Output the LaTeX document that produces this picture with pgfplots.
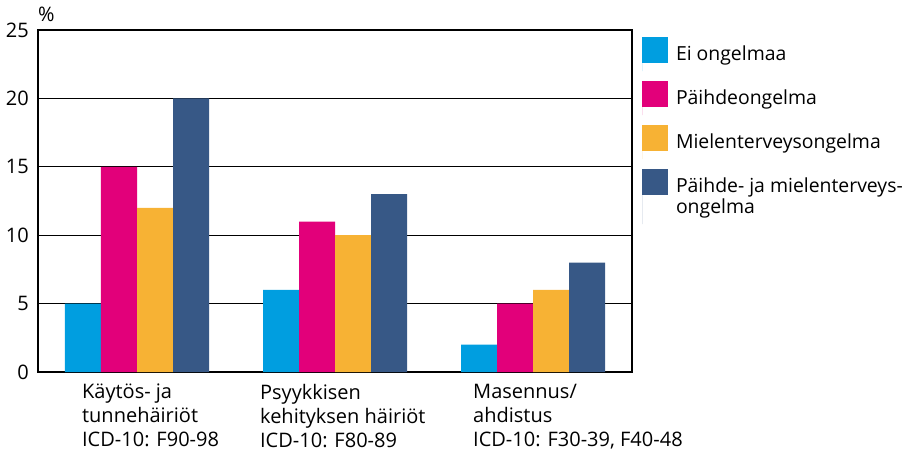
\documentclass[border=0pt]{standalone}
\usepackage{pgfplots}
\pgfplotsset{compat=1.18}
\usepackage{fontspec}
\setmainfont{Open Sans}
\definecolor{cA}{RGB}{0,158,224}
\definecolor{cB}{RGB}{226,0,122}
\definecolor{cC}{RGB}{247,178,52}
\definecolor{cD}{RGB}{55,88,134}
\begin{document}
\begin{tikzpicture}
\begin{axis}[
  scale only axis, width=594pt, height=342pt,
  ybar=0pt, bar width=36pt,
  xmin=-0.5, xmax=2.5, ymin=0, ymax=25,
  ytick={0,5,10,15,20,25},
  ymajorgrids, grid style={black, line width=0.8pt},
  axis line style={black, line width=1.2pt},
  major tick length=0pt,
  /pgf/number format/assume math mode=true,
  tick label style={font=\fontsize{20}{24}\selectfont, inner sep=0pt},
  yticklabel style={xshift=-9pt},
  xtick={-0.278,0.621,1.697},
  xticklabels={{Käytös- ja\\tunnehäiriöt\\ICD-10: F90-98},{Psyykkisen\\kehityksen häiriöt\\ICD-10: F80-89},{Masennus/\\ahdistus\\ICD-10: F30-39, F40-48}},
  xticklabel style={align=left, anchor=north west, yshift=-12pt},
  ylabel={\%},
  every axis y label/.style={at={(rel axis cs:0,1)}, anchor=base west, yshift=9pt, inner sep=0pt, font=\fontsize{20}{24}\selectfont},
  legend cell align=left,
  legend style={draw=none, fill=none, at={(1,1)}, anchor=north west, xshift=10pt, yshift=-7pt,
    inner sep=0pt, outer sep=0pt, row sep=10pt, column sep=8pt,
    nodes={inner sep=0pt, align=left}, font=\fontsize{19.4}{21}\selectfont},
  legend image code/.code={\fill[#1] (0pt,-9pt) rectangle (26pt,17pt); \path (0pt,-17pt) -- (0pt,17pt);},
]
\addplot[fill=cA, draw=none] coordinates {(0,5) (1,6) (2,2)};
\addplot[fill=cB, draw=none] coordinates {(0,15) (1,11) (2,5)};
\addplot[fill=cC, draw=none] coordinates {(0,12) (1,10) (2,6)};
\addplot[fill=cD, draw=none, legend image code/.code={\fill[cD] (0pt,1.6pt) rectangle (26pt,27.6pt); \path (0pt,-27.6pt) -- (0pt,27.6pt);}] coordinates {(0,20) (1,13) (2,8)};
\legend{Ei ongelmaa, Päihdeongelma, Mielenterveysongelma, {Päihde- ja mielenterveys-\\ongelma}}
\coordinate (bl) at (rel axis cs:0,0);
\coordinate (tr) at (rel axis cs:1,1);
\end{axis}
\pgfresetboundingbox
\path ([xshift=-38pt,yshift=-81pt]bl) rectangle ([xshift=275pt,yshift=30pt]tr);
\end{tikzpicture}
\end{document}
